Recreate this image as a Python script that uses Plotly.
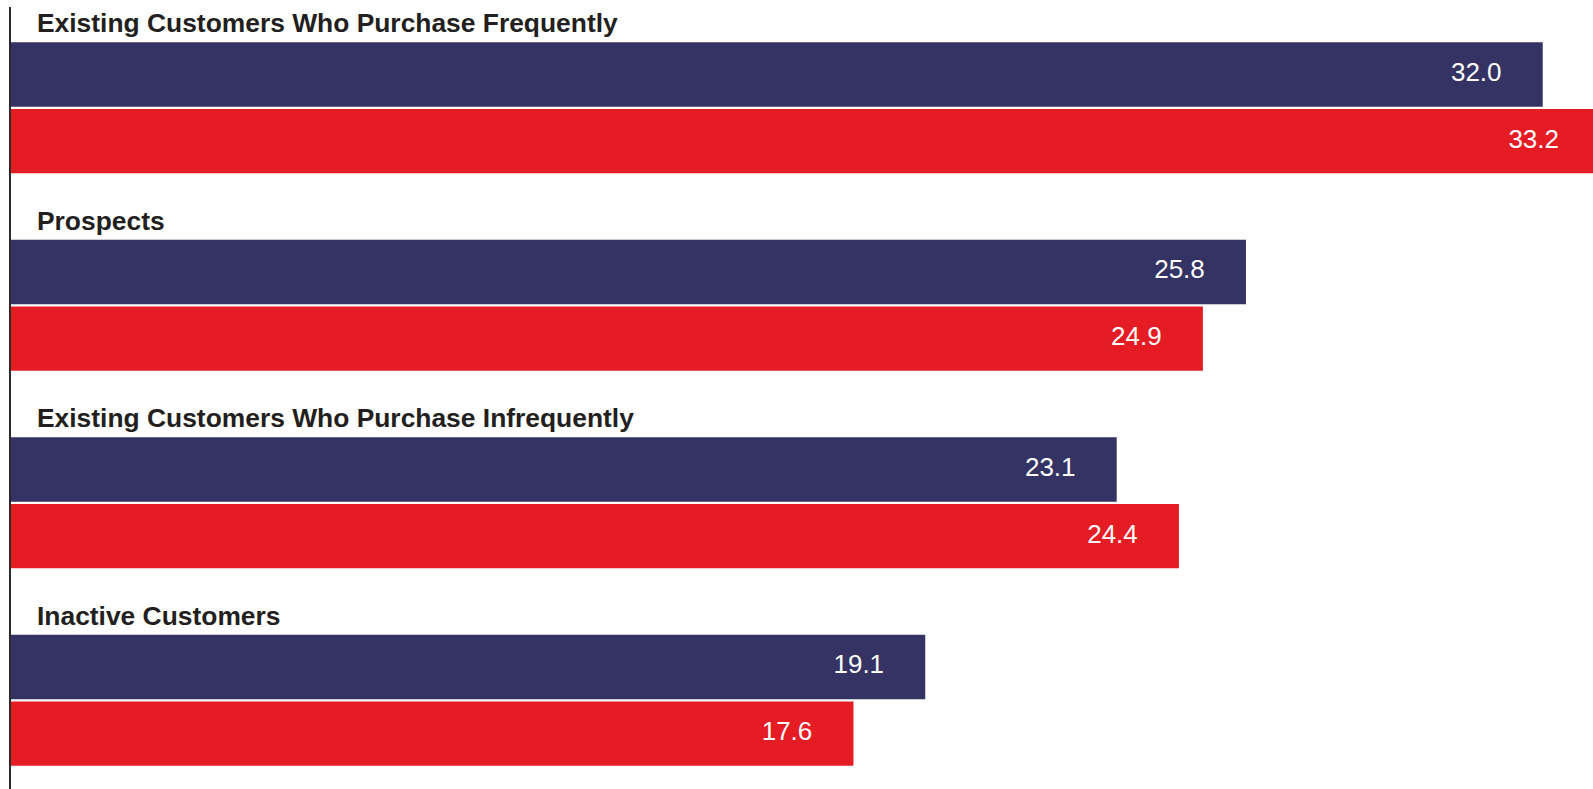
import plotly.graph_objects as go

# Segment names, top to bottom
categories = [
    "Existing Customers Who Purchase Frequently",
    "Prospects",
    "Existing Customers Who Purchase Infrequently",
    "Inactive Customers",
]
# Two series per segment (navy = first, red = second)
series_a = [32.0, 25.8, 23.1, 19.1]
series_b = [33.2, 24.9, 24.4, 17.6]

NAVY = "#343363"
RED = "#E61C24"
TITLE_COLOR = "#231F20"

BAR_W = 0.326        # bar thickness in category units
BAR_GAP = 0.0058     # half of the gap between the two bars
LABEL_INSET = 0.86   # value labels sit this far inside the bar end (x units)

pos = list(range(len(categories)))

fig = go.Figure()
fig.add_trace(go.Bar(
    y=pos, x=series_a, orientation="h",
    width=BAR_W, offset=-(BAR_W + BAR_GAP),
    marker=dict(color=NAVY, line=dict(width=0)),
    hoverinfo="x", showlegend=False,
))
fig.add_trace(go.Bar(
    y=pos, x=series_b, orientation="h",
    width=BAR_W, offset=BAR_GAP,
    marker=dict(color=RED, line=dict(width=0)),
    hoverinfo="x", showlegend=False,
))

# value labels, right-aligned a little inside each bar end
mid = BAR_GAP + BAR_W / 2
for vals, sign in ((series_a, -1), (series_b, 1)):
    fig.add_trace(go.Scatter(
        x=[v - LABEL_INSET for v in vals],
        y=[p + sign * mid for p in pos],
        mode="text",
        text=[f"{v:.1f}" for v in vals],
        textposition="middle left",
        textfont=dict(family="Liberation Sans, Arial, sans-serif", size=26, color="white"),
        hoverinfo="skip", showlegend=False, cliponaxis=False,
    ))

# segment titles above each pair of bars
for p, name in zip(pos, categories):
    fig.add_annotation(
        x=0, y=p - (BAR_W + BAR_GAP), xref="x", yref="y",
        xanchor="left", yanchor="bottom", xshift=24, yshift=2,
        text=f"<b>{name}</b>", showarrow=False,
        font=dict(family="Liberation Sans, Arial, sans-serif", size=26.4, color=TITLE_COLOR),
    )

fig.update_layout(
    width=1593, height=789,
    margin=dict(l=11, r=0, t=7, b=0),
    paper_bgcolor="white", plot_bgcolor="white",
    xaxis=dict(range=[0, 33.05], visible=False, fixedrange=True),
    yaxis=dict(range=[3.449, -0.5104], showticklabels=False, showgrid=False,
               zeroline=False, showline=True, linecolor="#2b2b2b", linewidth=2,
               ticks="", fixedrange=True),
    showlegend=False,
)

fig.write_html("out.html")
